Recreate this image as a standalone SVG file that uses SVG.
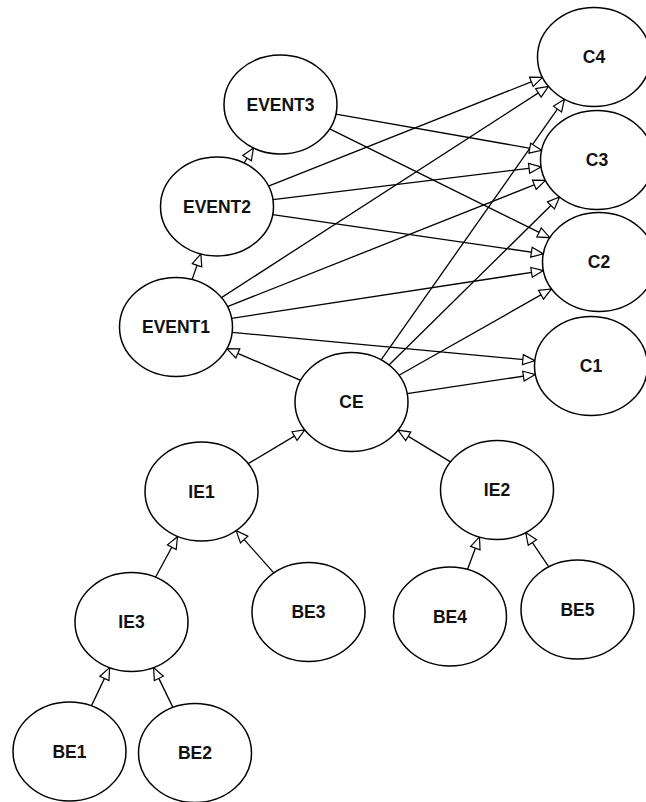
<svg xmlns="http://www.w3.org/2000/svg" width="646" height="802" viewBox="0 0 646 802">
<defs>
<style>
.n ellipse{fill:#fff;stroke:#000;stroke-width:1.5}
.n text{font-family:"Liberation Sans",Arial,sans-serif;font-weight:bold;font-size:17.5px;text-anchor:middle;fill:#111}
#edges line{stroke:#000;stroke-width:1.3;marker-end:url(#ah)}
</style>
<marker id="ah" markerUnits="userSpaceOnUse" markerWidth="14" markerHeight="12" refX="13" refY="5.5" orient="auto" overflow="visible">
<path d="M1,0.5 L13,5.5 L1,10.5 z" fill="#fff" stroke="#000" stroke-width="1.2"/>
</marker>
</defs>
<rect width="646" height="802" fill="#fff"/>
<g id="edges">
<line x1="192.1" y1="279.6" x2="200.9" y2="253.9"/>
<line x1="244.1" y1="163.0" x2="253.4" y2="148.0"/>
<line x1="300.7" y1="380.3" x2="226.8" y2="348.7"/>
<line x1="248.2" y1="463.6" x2="304.8" y2="429.9"/>
<line x1="450.5" y1="461.9" x2="398.0" y2="430.1"/>
<line x1="155.5" y1="577.2" x2="177.5" y2="536.7"/>
<line x1="273.8" y1="572.9" x2="236.2" y2="530.6"/>
<line x1="91.4" y1="705.9" x2="109.6" y2="667.6"/>
<line x1="172.9" y1="707.4" x2="153.6" y2="667.6"/>
<line x1="467.5" y1="569.4" x2="479.5" y2="536.9"/>
<line x1="548.8" y1="566.9" x2="525.7" y2="532.6"/>
<line x1="407.2" y1="393.6" x2="535.3" y2="374.4"/>
<line x1="399.0" y1="375.2" x2="551.5" y2="288.9"/>
<line x1="389.0" y1="365.0" x2="559.5" y2="197.0"/>
<line x1="381.1" y1="359.9" x2="564.4" y2="99.2"/>
<line x1="232.2" y1="332.3" x2="534.8" y2="360.7"/>
<line x1="231.6" y1="318.4" x2="543.4" y2="270.6"/>
<line x1="227.5" y1="306.6" x2="545.5" y2="180.4"/>
<line x1="221.5" y1="297.6" x2="548.5" y2="86.4"/>
<line x1="272.7" y1="214.6" x2="543.3" y2="253.9"/>
<line x1="273.0" y1="199.6" x2="541.0" y2="166.9"/>
<line x1="268.5" y1="186.1" x2="542.5" y2="77.4"/>
<line x1="329.7" y1="128.8" x2="549.8" y2="237.7"/>
<line x1="335.9" y1="114.2" x2="541.6" y2="150.3"/>
</g>
<g id="C4" class="n"><ellipse cx="594" cy="57" rx="56.5" ry="49.5"/><text x="594" y="63">C4</text></g>
<g id="C3" class="n"><ellipse cx="597" cy="160" rx="56.5" ry="49.5"/><text x="597" y="166">C3</text></g>
<g id="C2" class="n"><ellipse cx="599" cy="262" rx="56.5" ry="49.5"/><text x="599" y="268">C2</text></g>
<g id="C1" class="n"><ellipse cx="591" cy="366" rx="56.5" ry="49.5"/><text x="591" y="372">C1</text></g>
<g id="EVENT3" class="n"><ellipse cx="280.5" cy="104.5" rx="56.5" ry="49.5"/><text x="280.5" y="110.5">EVENT3</text></g>
<g id="EVENT2" class="n"><ellipse cx="217" cy="206.5" rx="56.5" ry="49.5"/><text x="217" y="212.5">EVENT2</text></g>
<g id="EVENT1" class="n"><ellipse cx="176" cy="327" rx="56.5" ry="49.5"/><text x="176" y="333">EVENT1</text></g>
<g id="CE" class="n"><ellipse cx="351.5" cy="402" rx="56.5" ry="49.5"/><text x="351.5" y="408">CE</text></g>
<g id="IE1" class="n"><ellipse cx="201.5" cy="491.5" rx="56.5" ry="49.5"/><text x="201.5" y="497.5">IE1</text></g>
<g id="IE2" class="n"><ellipse cx="497" cy="490" rx="56.5" ry="49.5"/><text x="497" y="496">IE2</text></g>
<g id="IE3" class="n"><ellipse cx="131.5" cy="622" rx="56.5" ry="49.5"/><text x="131.5" y="628">IE3</text></g>
<g id="BE3" class="n"><ellipse cx="308.5" cy="612" rx="56.5" ry="49.5"/><text x="308.5" y="618">BE3</text></g>
<g id="BE4" class="n"><ellipse cx="450" cy="616.5" rx="56.5" ry="49.5"/><text x="450" y="622.5">BE4</text></g>
<g id="BE5" class="n"><ellipse cx="577.5" cy="609.5" rx="56.5" ry="49.5"/><text x="577.5" y="615.5">BE5</text></g>
<g id="BE1" class="n"><ellipse cx="69.5" cy="751.5" rx="56.5" ry="49.5"/><text x="69.5" y="757.5">BE1</text></g>
<g id="BE2" class="n"><ellipse cx="195" cy="753" rx="56.5" ry="49.5"/><text x="195" y="759">BE2</text></g>
</svg>
